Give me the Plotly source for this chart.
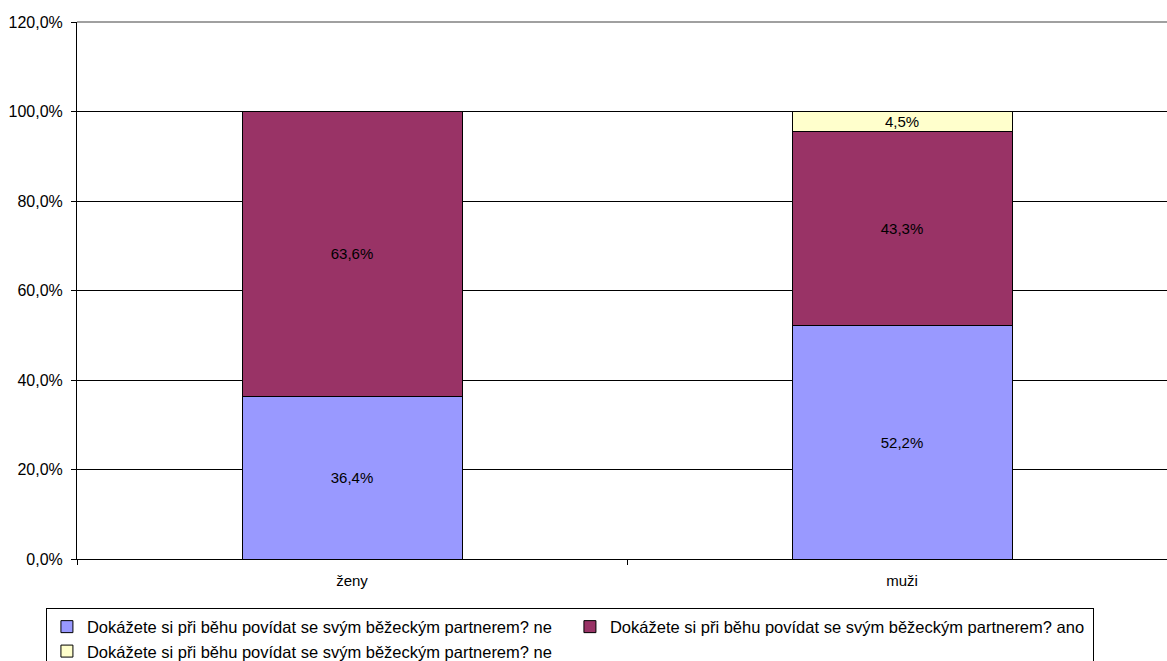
import plotly.graph_objects as go

categories = ["ženy", "muži"]
series_names = [
    "Dokážete si při běhu povídat se svým běžeckým partnerem? ne",
    "Dokážete si při běhu povídat se svým běžeckým partnerem? ano",
    "Dokážete si při běhu povídat se svým běžeckým partnerem? ne",
]
ne_values = [36.4, 52.2]
ano_values = [63.6, 43.3]
ne2_values = [0.0, 4.5]
colors = ["#9999FF", "#993366", "#FFFFCC"]
y_ticks = [0, 20, 40, 60, 80, 100, 120]
y_tick_labels = ["0,0%", "20,0%", "40,0%", "60,0%", "80,0%", "100,0%", "120,0%"]

FONT = "Liberation Sans, Arial, sans-serif"
FS = 15
LEG_FS = 16.5

fig = go.Figure()
for name, vals, col in zip(series_names, [ne_values, ano_values, ne2_values], colors):
    fig.add_trace(go.Bar(
        x=categories, y=vals, name=name,
        marker=dict(color=col, line=dict(color="black", width=1)),
        width=0.4,
        texttemplate=["" if v == 0 else "%{y:.1f}%" for v in vals],
        textposition="inside", insidetextanchor="middle", textangle=0,
        textfont=dict(color="black", size=FS, family=FONT),
        constraintext="none",
        hoverinfo="skip",
    ))

fig.update_layout(
    barmode="stack",
    width=1167, height=661,
    margin=dict(l=77, r=0, t=22, b=102, autoexpand=False),
    paper_bgcolor="white", plot_bgcolor="white",
    separators=", ",
    font=dict(family=FONT, size=FS, color="black"),
    uniformtext=dict(minsize=FS, mode="show"),
    showlegend=True,
    legend=dict(
        orientation="h", x=-0.0285, xanchor="left", y=-0.092, yanchor="top",
        bordercolor="black", borderwidth=1, bgcolor="white",
        entrywidth=478, entrywidthmode="pixels",
        font=dict(family=FONT, size=LEG_FS, color="black"),
        traceorder="normal",
    ),
    xaxis=dict(
        range=[-0.5, 1.4818], showline=True, linecolor="black", linewidth=1,
        ticks="outside", tickson="boundaries", ticklen=5, tickcolor="black",
        ticklabelstandoff=8,
        showgrid=False, fixedrange=True,
    ),
    yaxis=dict(
        range=[0, 120], tickmode="array", tickvals=y_ticks, ticktext=y_tick_labels,
        showline=True, linecolor="black", linewidth=1,
        ticks="outside", ticklen=5, tickcolor="black",
        ticklabelstandoff=5, tickfont=dict(size=16),
        showgrid=True, gridcolor="black", gridwidth=1, zeroline=False,
        fixedrange=True,
    ),
    shapes=[dict(type="line", xref="paper", yref="paper", x0=0, x1=1, y0=1, y1=1,
                 line=dict(color="#808080", width=1.5))],
)

fig.write_html("out.html", post_script="document.body.style.margin='0';",
               config={"displayModeBar": False, "staticPlot": True})
